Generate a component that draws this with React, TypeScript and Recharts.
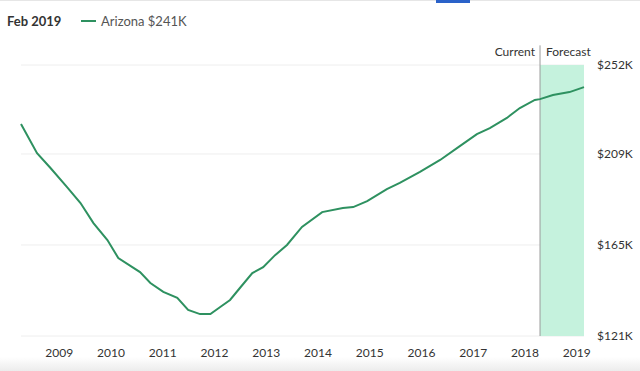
import React from "react";
import {
  LineChart,
  Line,
  XAxis,
  YAxis,
  CartesianGrid,
  ReferenceArea,
  ReferenceLine,
} from "recharts";

const dates = [
  2008.26, 2008.57, 2008.83, 2009.15, 2009.41, 2009.66, 2009.93, 2010.14, 2010.56, 2010.76,
  2011.01, 2011.28, 2011.49, 2011.72, 2011.92, 2012.11, 2012.3, 2012.49, 2012.73, 2012.94,
  2013.17, 2013.4, 2013.69, 2014.08, 2014.48, 2014.68, 2014.95, 2015.33, 2015.58, 2015.97,
  2016.36, 2016.74, 2017.07, 2017.32, 2017.65, 2017.9, 2018.19, 2018.29, 2018.54, 2018.86,
  2019.14,
];
const values = [
  223.5, 209.4, 202.2, 193.0, 185.3, 175.6, 167.4, 158.7, 151.9, 146.6,
  142.3, 139.4, 133.6, 131.6, 131.6, 135.0, 138.4, 144.2, 151.4, 154.3,
  160.1, 165.0, 173.7, 180.9, 182.9, 183.3, 186.2, 192.0, 195.0, 200.3,
  206.1, 212.8, 218.6, 221.5, 226.4, 231.2, 235.1, 235.5, 237.5, 238.9,
  241.3,
];
const yearTicks = [2009, 2010, 2011, 2012, 2013, 2014, 2015, 2016, 2017, 2018, 2019];
const priceTicks = [121, 165, 209, 252];
const currentDate = 2018.29;
const seriesName = "Arizona";
const headerLabel = "Feb 2019";
const headerValue = "$241K";

const data = dates.map((d, i) => ({ date: d, value: values[i] }));

const FONT = "Lato, 'Open Sans', sans-serif";
const GREEN = "#2e9160";

const CurrentForecastLabel = (props: any) => {
  const { viewBox } = props;
  const x = viewBox.x;
  const y = viewBox.y;
  return (
    <g>
      <text x={x - 5} y={y + 6} dy="0.35em" textAnchor="end" fontSize={12} fill="#333" fontFamily={FONT}>
        Current
      </text>
      <text x={x + 6} y={y + 6} dy="0.35em" textAnchor="start" fontSize={12} fill="#333" fontFamily={FONT}>
        Forecast
      </text>
    </g>
  );
};

export default function App() {
  return (
    <div
      style={{
        position: "absolute",
        left: 0,
        top: 0,
        width: 640,
        height: 371,
        background: "#fff",
        fontFamily: FONT,
        overflow: "hidden",
      }}
    >
      <div style={{ position: "absolute", left: 0, top: 0, width: 640, height: 1, background: "#e6e6e6" }} />
      <div style={{ position: "absolute", left: 436, top: 0, width: 34, height: 3, background: "#2a62c9" }} />
      <div
        style={{
          position: "absolute",
          left: 7,
          top: 13,
          fontSize: 13,
          fontWeight: 700,
          color: "#333",
          lineHeight: "16px",
        }}
      >
        {headerLabel}
      </div>
      <div style={{ position: "absolute", left: 81, top: 20, width: 15, height: 2, background: GREEN }} />
      <div
        style={{
          position: "absolute",
          left: 101,
          top: 13,
          fontSize: 13,
          color: "#555",
          lineHeight: "16px",
        }}
      >
        {seriesName} {headerValue}
      </div>
      <div
        style={{
          position: "absolute",
          left: 0,
          top: 357,
          width: 640,
          height: 14,
          background: "linear-gradient(to bottom, rgba(240,240,240,0), #ececec)",
        }}
      />
      <div style={{ position: "absolute", left: 0, top: 0 }}>
        <LineChart
          width={640}
          height={371}
          data={data}
          margin={{ top: 65, right: 6, left: 21, bottom: 15 }}
        >
          <CartesianGrid vertical={false} stroke="#eeeeee" />
          <ReferenceArea
            x1={currentDate}
            x2={2019.14}
            fill="#c5f2dd"
            fillOpacity={1}
            stroke="none"
          />
          <XAxis
            dataKey="date"
            type="number"
            domain={[2008.26, 2019.14]}
            ticks={yearTicks}
            height={20}
            axisLine={false}
            tickLine={false}
            tickSize={0}
            tickMargin={12}
            interval={0}
            tick={{ fontSize: 12, fill: "#333", fontFamily: FONT }}
          />
          <YAxis
            orientation="right"
            type="number"
            domain={[121, 252]}
            ticks={priceTicks}
            width={50}
            axisLine={false}
            tickLine={false}
            tickSize={0}
            tickMargin={13}
            interval={0}
            tickFormatter={(v: number) => `$${v}K`}
            tick={{ fontSize: 12, fill: "#333", fontFamily: FONT }}
          />
          <ReferenceLine
            segment={[
              { x: currentDate, y: 121 },
              { x: currentDate, y: 261.5 },
            ]}
            stroke="#9a9a9a"
            strokeWidth={1}
            ifOverflow="visible"
            label={<CurrentForecastLabel />}
          />
          <Line
            type="linear"
            dataKey="value"
            stroke={GREEN}
            strokeWidth={2}
            dot={false}
            isAnimationActive={false}
          />
        </LineChart>
      </div>
    </div>
  );
}
